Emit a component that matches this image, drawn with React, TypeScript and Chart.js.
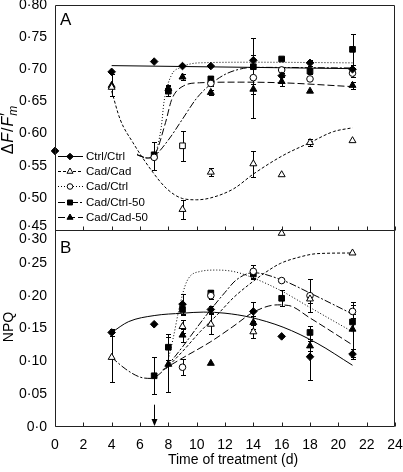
import React, { useEffect, useRef } from 'react';
import { Chart, registerables } from 'chart.js';

Chart.register(...registerables);

const FONT = '"Liberation Sans", Arial, sans-serif';

// ---- data ----
const days = [0, 4, 7, 8, 9, 11, 14, 16, 18, 21];
const seriesNames = ['Ctrl/Ctrl', 'Cad/Cad', 'Cad/Ctrl', 'Cad/Ctrl-50', 'Cad/Cad-50'];
const xTitle = 'Time of treatment (d)';

// Panel A: ΔF/F'm
const ctrlCtrlA = [0.573, 0.696, 0.712, null, 0.705, 0.705, 0.714, 0.690, 0.710, 0.700];
const cadCadA = [null, 0.672, null, null, 0.482, 0.540, 0.553, 0.536, 0.586, 0.589];
const cadCtrlA = [null, null, 0.563, null, 0.581, 0.678, 0.687, 0.699, 0.685, 0.694];
const cadCtrl50A = [null, null, 0.567, 0.666, null, 0.685, 0.704, 0.716, 0.697, 0.731];
const cadCad50A = [null, 0.675, 0.565, 0.670, 0.688, 0.664, 0.669, 0.681, 0.666, 0.675];

const ctrlCtrlAErr = [0, 0, 0, 0, 0, 0, 0.008, 0.010, 0.005, 0];
const cadCadAErr = [0, 0, 0, 0, 0.015, 0.006, 0.020, 0, 0.006, 0];
const cadCtrlAErr = [0, 0, 0, 0, 0.023, 0.004, 0.062, 0.004, 0, 0.006];
const cadCtrl50AErr = [0, 0, 0, 0.008, 0, 0.004, 0, 0, 0.004, 0.024];
const cadCad50AErr = [0, 0.017, 0.022, 0.006, 0.005, 0.004, 0.008, 0.007, 0, 0.005];

// Panel B: NPQ
const ctrlCtrlB = [null, 0.144, 0.1565, null, 0.187, 0.179, 0.176, 0.138, 0.107, 0.111];
const cadCadB = [null, 0.106, null, null, 0.153, 0.1565, 0.145, 0.295, 0.195, 0.265];
const cadCtrlB = [null, null, null, null, 0.091, 0.200, 0.237, 0.223, 0.200, 0.176];
const cadCtrl50B = [null, null, 0.078, 0.1215, 0.179, 0.204, 0.233, 0.196, 0.144, 0.160];
const cadCad50B = [null, null, null, 0.0955, 0.140, 0.097, 0.159, null, 0.1235, 0.149];

const ctrlCtrlBErr = [0, 0.006, 0, 0, 0.015, 0.005, 0.015, 0, 0.035, 0.008];
const cadCadBErr = [0, 0.037, 0, 0, 0.010, 0.015, 0.010, 0, 0.006, 0];
const cadCtrlBErr = [0, 0, 0, 0, 0.012, 0.005, 0.010, 0, 0.025, 0.010];
const cadCtrl50BErr = [0, 0, 0.028, 0.020, 0.008, 0.005, 0.008, 0.012, 0.010, 0.012];
const cadCad50BErr = [0, 0, 0, 0.042, 0.010, 0, 0.010, 0, 0.008, 0.042];

// fitted curves, panel A  [day, value]
const fitCtrlCtrlA = [[4, 0.7057], [21, 0.701]];
const fitCadCadA = [[4, 0.666], [4.6, 0.622], [5.5, 0.586], [6.9, 0.54], [7.9, 0.514], [9, 0.499], [10, 0.497], [11, 0.5], [12.6, 0.514], [14, 0.537], [16.1, 0.566], [18, 0.586], [19.65, 0.603], [21, 0.609]];
const fitCadCtrlA = [[5.8, 0.568], [6.5, 0.562], [7, 0.566], [7.5, 0.61], [7.7, 0.65], [8.2, 0.69], [8.9, 0.703], [10.2, 0.71], [14, 0.711], [21, 0.71]];
const fitCadCtrl50A = [[5.8, 0.567], [6.5, 0.562], [7, 0.565], [8, 0.59], [9, 0.6225], [10, 0.655], [11, 0.677], [12, 0.692], [13, 0.7], [14, 0.703], [21, 0.702]];
const fitCadCad50A = [[5.8, 0.567], [6.5, 0.562], [7, 0.566], [7.8, 0.617], [8.24, 0.653], [9.06, 0.674], [10.2, 0.679], [13, 0.68], [16, 0.679], [21, 0.673]];

// fitted curves, panel B
const fitCtrlCtrlB = [[4, 0.144], [5.2, 0.1605], [7, 0.1697], [9, 0.1733], [10.5, 0.175], [12, 0.1733], [13.8, 0.167], [16.1, 0.152], [18.5, 0.1275], [21, 0.094]];
const fitCadCadB = [[7.8, 0.088], [9, 0.115], [10.24, 0.145], [11.5, 0.172], [12.6, 0.197], [14, 0.222], [14.9, 0.236], [15.9, 0.249], [17.3, 0.259], [18.5, 0.264], [21, 0.265]];
const fitCadCtrlB = [[7.9, 0.094], [8.34, 0.135], [8.82, 0.186], [9.3, 0.2215], [10.24, 0.2368], [11.4, 0.239], [12.6, 0.2368], [13.76, 0.229], [16, 0.207], [18, 0.182], [21, 0.145]];
const fitCadCtrl50B = [[4, 0.106], [5, 0.088], [6, 0.076], [6.8, 0.074], [7.5, 0.083], [8, 0.095], [9, 0.122], [10.6, 0.168], [12, 0.205], [12.8, 0.224], [14, 0.235], [16, 0.224], [18, 0.204], [21, 0.172]];
const fitCadCad50B = [[7.6, 0.087], [9, 0.105], [11, 0.13], [12.5, 0.152], [14.1, 0.176], [15.7, 0.186], [16.5, 0.185], [18, 0.166], [21, 0.125]];

const arrowDay = 7;
const arrowFrom = 0.034;

// ---- styles ----
const dashes: number[][] = [[], [3, 2], [1, 2], [7, 2, 2, 2], [7, 3]];
const markers = [
  { style: 'rectRot', fill: '#000', r: 3.8 },
  { style: 'triangle', fill: '#fff', r: 4 },
  { style: 'circle', fill: '#fff', r: 3.3 },
  { style: 'rect', fill: '#000', r: 4 },
  { style: 'triangle', fill: '#000', r: 4 },
];

const fmt = (v: number) => {
  if (Math.abs(v) < 1e-9) return '0·0';
  return v.toFixed(2).replace('.', '·');
};

function pts(vals: (number | null)[], errs: number[]) {
  const out: any[] = [];
  days.forEach((d, i) => {
    const v = vals[i];
    if (v !== null && v !== undefined) out.push({ x: d, y: v, e: errs[i] });
  });
  return out;
}

function drawMarker(ctx: CanvasRenderingContext2D, style: string, x: number, y: number, r: number, fill: string) {
  ctx.beginPath();
  if (style === 'circle') {
    ctx.arc(x, y, r, 0, Math.PI * 2);
  } else if (style === 'rect') {
    const s = r * Math.SQRT1_2;
    ctx.rect(x - s, y - s, 2 * s, 2 * s);
  } else if (style === 'rectRot') {
    ctx.moveTo(x, y - r); ctx.lineTo(x + r, y); ctx.lineTo(x, y + r); ctx.lineTo(x - r, y); ctx.closePath();
  } else if (style === 'triangle') {
    const a = r * Math.sqrt(3) / 2;
    ctx.moveTo(x, y - r); ctx.lineTo(x + a, y + r / 2); ctx.lineTo(x - a, y + r / 2); ctx.closePath();
  }
  ctx.fillStyle = fill; ctx.fill();
  ctx.lineWidth = 1; ctx.strokeStyle = '#000'; ctx.stroke();
}

const decor = {
  id: 'decor',
  beforeDatasetsDraw(chart: any) {
    const ctx = chart.ctx;
    const xs = chart.scales.x;
    ctx.save();
    ctx.strokeStyle = '#000';
    ctx.lineWidth = 1;
    ctx.setLineDash([]);
    chart.data.datasets.forEach((ds: any) => {
      if (!ds.hasErr) return;
      const ys = chart.scales[ds.yAxisID];
      ds.data.forEach((p: any) => {
        if (!p.e) return;
        const x = Math.round(xs.getPixelForValue(p.x)) + 0.5;
        const y1 = Math.round(ys.getPixelForValue(p.y - p.e)) + 0.5;
        const y2 = Math.round(ys.getPixelForValue(p.y + p.e)) + 0.5;
        ctx.beginPath();
        ctx.moveTo(x, y1); ctx.lineTo(x, y2);
        ctx.moveTo(x - 2.5, y1); ctx.lineTo(x + 2.5, y1);
        ctx.moveTo(x - 2.5, y2); ctx.lineTo(x + 2.5, y2);
        ctx.stroke();
      });
    });
    ctx.restore();
  },
  afterDraw(chart: any) {
    const ctx: CanvasRenderingContext2D = chart.ctx;
    const ca = chart.chartArea;
    const xs = chart.scales.x, yA = chart.scales.yA, yB = chart.scales.yB;
    ctx.save();
    ctx.setLineDash([]);
    ctx.strokeStyle = '#222';
    ctx.lineWidth = 1;
    const L = Math.round(ca.left) + 0.5, R = Math.round(ca.right) - 0.5;
    const T = Math.round(ca.top) + 0.5, B = Math.round(ca.bottom) - 0.5;
    const M = Math.round(yA.bottom) + 0.5;
    ctx.beginPath();
    ctx.rect(L, T, R - L, B - T);
    ctx.moveTo(L, M); ctx.lineTo(R, M);
    ctx.stroke();
    ctx.beginPath();
    xs.ticks.forEach((t: any) => {
      const x = Math.round(xs.getPixelForValue(t.value)) + 0.5;
      ctx.moveTo(x, B); ctx.lineTo(x, B - 4);
      ctx.moveTo(x, M); ctx.lineTo(x, M - 4);
    });
    ctx.stroke();

    // shifted edge tick labels
    ctx.fillStyle = '#000';
    ctx.font = '14px ' + FONT;
    ctx.textAlign = 'right';
    ctx.textBaseline = 'middle';
    ctx.fillText(fmt(0.45), ca.left - 8, yA.getPixelForValue(0.45) - 4);
    ctx.fillText(fmt(0.30), ca.left - 8, yB.getPixelForValue(0.30) + 9);

    // x title
    ctx.textAlign = 'center';
    ctx.font = '14px ' + FONT;
    ctx.fillText(xTitle, 233, 460);

    // panel letters
    ctx.textAlign = 'left';
    ctx.textBaseline = 'alphabetic';
    ctx.font = '17px ' + FONT;
    ctx.fillText('A', ca.left + 5, yA.top + 20);
    ctx.fillText('B', ca.left + 5, yB.top + 23);

    // y titles
    ctx.save();
    ctx.translate(9, 130);
    ctx.rotate(-Math.PI / 2);
    const parts = [
      { t: 'Δ', f: '16px ' + FONT, dy: 0, sp: 1 },
      { t: 'F', f: 'italic 16px ' + FONT, dy: 0, sp: 1 },
      { t: '/', f: '16px ' + FONT, dy: 0, sp: 1 },
      { t: 'F', f: 'italic 16px ' + FONT, dy: 0, sp: 0 },
      { t: '′', f: 'italic 16px ' + FONT, dy: -1, sp: -2 },
      { t: 'm', f: 'italic 12px ' + FONT, dy: 5, sp: 0 },
    ];
    let total = 0;
    parts.forEach((p) => { ctx.font = p.f; total += ctx.measureText(p.t).width + p.sp; });
    let px = -total / 2;
    ctx.textBaseline = 'middle';
    parts.forEach((p) => {
      ctx.font = p.f;
      ctx.fillText(p.t, px, p.dy);
      px += ctx.measureText(p.t).width + p.sp;
    });
    ctx.restore();

    ctx.save();
    ctx.translate(9, 327);
    ctx.rotate(-Math.PI / 2);
    ctx.font = '14px ' + FONT;
    ctx.textAlign = 'center';
    ctx.textBaseline = 'middle';
    ctx.fillText('NPQ', 0, 0);
    ctx.restore();

    // arrow
    const ax = Math.round(xs.getPixelForValue(arrowDay)) + 0.5;
    const ay1 = yB.getPixelForValue(arrowFrom);
    const ay2 = yB.getPixelForValue(0) - 1;
    ctx.strokeStyle = '#000';
    ctx.beginPath(); ctx.moveTo(ax, ay1); ctx.lineTo(ax, ay2 - 5); ctx.stroke();
    ctx.beginPath(); ctx.moveTo(ax - 3, ay2 - 7); ctx.lineTo(ax + 3, ay2 - 7); ctx.lineTo(ax, ay2); ctx.closePath();
    ctx.fillStyle = '#000'; ctx.fill();

    // legend
    const lx0 = ca.left + 3, lx1 = ca.left + 28, mx = ca.left + 15, tx = ca.left + 31;
    const ly0 = yA.top + 151, step = 15.2;
    ctx.font = '11.5px ' + FONT;
    ctx.textBaseline = 'middle';
    ctx.textAlign = 'left';
    seriesNames.forEach((name, i) => {
      const y = Math.round(ly0 + i * step) + 0.5;
      ctx.setLineDash(dashes[i]);
      ctx.strokeStyle = '#000';
      ctx.lineWidth = 1;
      ctx.beginPath(); ctx.moveTo(lx0, y); ctx.lineTo(lx1, y); ctx.stroke();
      ctx.setLineDash([]);
      drawMarker(ctx, markers[i].style, mx, y, markers[i].r - 0.5, markers[i].fill);
      ctx.fillStyle = '#000';
      ctx.fillText(name, tx, y);
    });
    ctx.restore();
  },
};

function buildConfig(): any {
  const ptsA = [
    pts(ctrlCtrlA, ctrlCtrlAErr), pts(cadCadA, cadCadAErr), pts(cadCtrlA, cadCtrlAErr),
    pts(cadCtrl50A, cadCtrl50AErr), pts(cadCad50A, cadCad50AErr),
  ];
  const ptsB = [
    pts(ctrlCtrlB, ctrlCtrlBErr), pts(cadCadB, cadCadBErr), pts(cadCtrlB, cadCtrlBErr),
    pts(cadCtrl50B, cadCtrl50BErr), pts(cadCad50B, cadCad50BErr),
  ];
  const fitsA = [fitCtrlCtrlA, fitCadCadA, fitCadCtrlA, fitCadCtrl50A, fitCadCad50A];
  const fitsB = [fitCtrlCtrlB, fitCadCadB, fitCadCtrlB, fitCadCtrl50B, fitCadCad50B];

  const scatter = (data: any[], i: number, axis: string) => ({
    type: 'scatter',
    label: seriesNames[i],
    data,
    yAxisID: axis,
    hasErr: true,
    showLine: false,
    clip: false,
    pointStyle: (c: any) => (axis === 'yA' && i === 2 && c.raw && c.raw.x === 9 ? 'rect' : markers[i].style),
    pointRadius: (c: any) => (axis === 'yA' && i === 2 && c.raw && c.raw.x === 9 ? 4 : markers[i].r),
    pointBackgroundColor: markers[i].fill,
    pointBorderColor: '#000',
    pointBorderWidth: 1,
  });
  const fit = (f: number[][], i: number, axis: string) => ({
    type: 'line',
    label: seriesNames[i] + ' fit',
    data: f.map(([x, y]) => ({ x, y })),
    yAxisID: axis,
    borderColor: '#000',
    borderWidth: 1,
    borderDash: dashes[i],
    pointRadius: 0,
    fill: false,
    cubicInterpolationMode: 'monotone',
  });

  const datasets: any[] = [];
  ptsA.forEach((d, i) => datasets.push(scatter(d, i, 'yA')));
  ptsB.forEach((d, i) => datasets.push(scatter(d, i, 'yB')));
  fitsA.forEach((f, i) => datasets.push(fit(f, i, 'yA')));
  fitsB.forEach((f, i) => datasets.push(fit(f, i, 'yB')));

  const tickFont = { family: FONT, size: 14 };
  const hideEdge = (val: number) => (c: any) =>
    c.tick && Math.abs(c.tick.value - val) < 1e-6 ? 'rgba(0,0,0,0)' : '#000';
  const fitY = (s: any) => { s.width = 55; s.paddingTop = 0; s.paddingBottom = 0; };

  return {
    type: 'scatter',
    data: { datasets },
    plugins: [decor],
    options: {
      animation: false,
      responsive: false,
      events: [],
      layout: { padding: { top: 5, right: 8, bottom: 0, left: 0 } },
      plugins: { legend: { display: false }, tooltip: { enabled: false } },
      scales: {
        x: {
          type: 'linear',
          min: 0,
          max: 24,
          grid: { display: false, drawTicks: false },
          border: { display: false },
          ticks: { stepSize: 2, autoSkip: false, maxRotation: 0, font: tickFont, color: '#000', padding: 10 },
          title: { display: false },
          afterFit: (s: any) => { s.height = 45; s.paddingLeft = 0; s.paddingRight = 0; },
        },
        yB: {
          type: 'linear',
          position: 'left',
          stack: 'panels',
          stackWeight: 197,
          min: 0,
          max: 0.3,
          grid: { display: false, drawTicks: false },
          border: { display: false },
          ticks: { stepSize: 0.05, autoSkip: false, font: tickFont, color: hideEdge(0.3), padding: 8, callback: (v: any) => fmt(Number(v)) },
          afterFit: fitY,
        },
        yA: {
          type: 'linear',
          position: 'left',
          stack: 'panels',
          stackWeight: 225,
          min: 0.45,
          max: 0.8,
          grid: { display: false, drawTicks: false },
          border: { display: false },
          ticks: { stepSize: 0.05, autoSkip: false, font: tickFont, color: hideEdge(0.45), padding: 8, callback: (v: any) => fmt(Number(v)) },
          afterFit: fitY,
        },
      },
    },
  };
}

export default function App() {
  const ref = useRef<HTMLCanvasElement>(null);
  useEffect(() => {
    const chart = new Chart(ref.current as HTMLCanvasElement, buildConfig());
    return () => chart.destroy();
  }, []);
  return (
    <div style={{ position: 'absolute', left: 0, top: 0, width: 403, height: 472, background: '#fff' }}>
      <canvas ref={ref} width={403} height={472} style={{ display: 'block' }} />
    </div>
  );
}
